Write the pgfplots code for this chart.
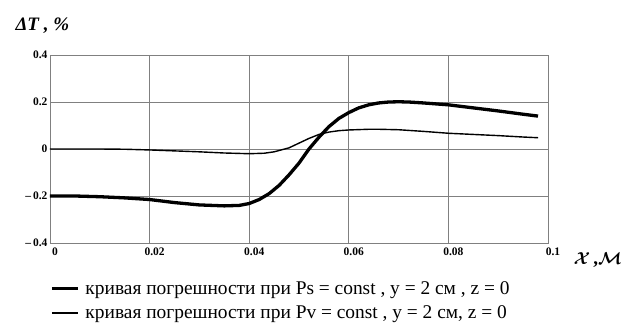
\documentclass[border=0pt]{standalone}
\usepackage{amsmath}
\usepackage{pgfplots}
\pgfplotsset{compat=1.18}
\usepackage{fontspec}
\setmainfont{Liberation Serif}
\newfontfamily\legfont{Liberation Serif}
\begin{document}
\begin{tikzpicture}
\path[use as bounding box] (-50pt,-81pt) rectangle (573pt,243pt);
\begin{axis}[
  at={(0,0)}, anchor=south west,
  scale only axis, width=498pt, height=188pt,
  xmin=0, xmax=0.1, ymin=-0.4, ymax=0.4,
  xtick={0,0.02,0.04,0.06,0.08,0.1},
  xticklabels={0,0.02,0.04,0.06,0.08,0.1},
  ytick={-0.4,-0.2,0,0.2,0.4},
  yticklabels={–\,0.4,–\,0.2,0,0.2,0.4},
  major tick length=0pt,
  grid=major,
  grid style={gray, line width=0.8pt},
  axis line style={gray, line width=0.8pt},
  tick label style={font=\fontsize{11.5}{12}\selectfont\bfseries},
  /pgf/number format/assume math mode=true,
  xticklabel style={xshift=5pt, yshift=-1pt},
  yticklabel style={xshift=1pt},
  legend style={at={(0,0)}, anchor=north west, xshift=0pt, yshift=-36pt,
    draw=none, fill=none, font=\legfont\fontsize{19.4}{21}\selectfont, row sep=6pt,
    inner sep=0pt},
  legend cell align=left,
  legend image code/.code={\draw[#1] (0pt,0pt) -- (26pt,0pt);},
]
\addplot[black, line width=3.3pt] coordinates {
(0,-0.2) (0.005,-0.2) (0.01,-0.203) (0.015,-0.208) (0.02,-0.215) (0.025,-0.228)
(0.03,-0.238) (0.035,-0.242) (0.038,-0.24) (0.04,-0.232) (0.042,-0.215)
(0.044,-0.19) (0.046,-0.155) (0.048,-0.11) (0.05,-0.06) (0.052,0.0)
(0.054,0.05) (0.056,0.095) (0.058,0.13) (0.06,0.155) (0.062,0.175)
(0.064,0.188) (0.066,0.196) (0.068,0.2) (0.07,0.201) (0.072,0.2)
(0.075,0.196) (0.08,0.188) (0.085,0.175) (0.09,0.162) (0.095,0.148) (0.098,0.14)
};
\addlegendentry{\hspace{4pt}кривая погрешности при Ps = const , y = 2 см , z = 0}
\addplot[black, line width=1.4pt] coordinates {
(0,0) (0.01,0) (0.015,-0.001) (0.02,-0.004) (0.025,-0.008) (0.03,-0.012)
(0.035,-0.017) (0.04,-0.02) (0.043,-0.018) (0.045,-0.012) (0.048,0.005)
(0.05,0.025) (0.052,0.045) (0.054,0.062) (0.056,0.072) (0.058,0.078)
(0.06,0.081) (0.064,0.084) (0.066,0.084) (0.07,0.082) (0.075,0.075)
(0.08,0.067) (0.085,0.062) (0.09,0.057) (0.095,0.051) (0.098,0.048)
};
\addlegendentry{\hspace{4pt}кривая погрешности при Pv = const , y = 2 см, z = 0}
\end{axis}
\node[anchor=west, font=\fontsize{19}{21}\selectfont\bfseries\itshape] at (-38pt,217pt) {ΔT , \%};
\node[anchor=west, font=\fontsize{19}{20}\selectfont] at (520pt,-17pt) {$\boldsymbol{\mathcal{X}}$\,\textbf{,}$\boldsymbol{\mathcal{M}}$};
\end{tikzpicture}
\end{document}
